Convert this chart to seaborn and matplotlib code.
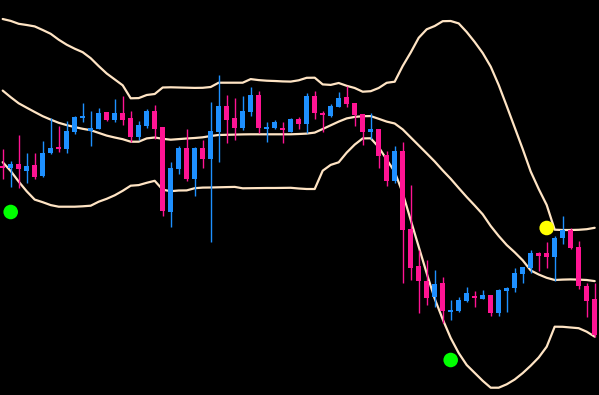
import numpy as np
import pandas as pd
import matplotlib
matplotlib.use("Agg")
import matplotlib.pyplot as plt
import seaborn as sns

# ---- data (price levels) ----
opens = [234, 232, 236, 229.3, 234.7, 224, 247.3, 252.7, 251, 268.3,
         282, 269.3, 271.3, 288, 280, 287.3, 282, 263.3, 274.3, 289,
         273.3, 188, 231, 252.3, 221, 252.3, 241, 268.3, 294, 281.7,
         272.3, 288.3, 305, 271.3, 272.3, 272, 268.3, 281, 276, 304.3,
         287.3, 284, 293.3, 303.3, 297.3, 286, 268.3, 271, 245, 219,
         249.3, 171, 134, 119, 103.3, 116.7, 88.3, 89.3, 99, 104,
         101, 105, 87.3, 109.3, 112.3, 126, 132.3, 147.3, 146.7, 143.3,
         161.7, 170, 153.3, 114, 101]
highs = [251, 239, 265, 247, 246.7, 259, 281.7, 274, 279, 284,
         297.3, 289, 292.3, 288, 301, 304, 289, 279, 290.7, 295,
         273.3, 238.3, 254, 271, 253.3, 260, 298.3, 325, 305, 302.3,
         304, 313.3, 309, 278, 280, 278, 282, 283.3, 306.7, 309,
         289, 296, 308.3, 314, 297.3, 286, 286.7, 271, 249, 254.3,
         258.3, 215, 150, 140, 130, 122.7, 100, 102.7, 112.7, 109,
         110, 105, 110.7, 113.3, 131.7, 133.3, 150, 148.3, 158.3, 164,
         184, 171.7, 159, 116.7, 116.7]
lows = [221, 213, 212.3, 217, 221.3, 223.3, 246, 248.3, 247.3, 266,
        278.3, 254.3, 270.7, 279, 278.3, 275, 258.3, 260, 271.7, 261,
        184.3, 173.3, 226, 219.3, 204.3, 232.3, 158.3, 238.3, 256.7, 260,
        270, 284.3, 267.3, 258.3, 271, 256.7, 267.7, 271, 266.7, 281,
        268.3, 282.7, 292.7, 293.3, 274.3, 255, 260.7, 232.3, 214, 217.3,
        117.3, 120, 87.3, 95, 93.3, 76.7, 80, 88.3, 98.3, 92.7,
        100.7, 84.3, 84.3, 88.3, 108.3, 117.3, 126.7, 129.3, 132.3, 119.3,
        155.7, 150.7, 110.7, 82.7, 63.3]
closes = [232.5, 236, 231.3, 234, 223.3, 246.7, 251.7, 250.7, 269, 283.3,
          284, 272, 287.3, 280, 287.3, 280, 263.3, 275, 289, 271,
          189.3, 232.3, 252.3, 221, 252.3, 241, 269, 294, 280, 272.3,
          289, 305, 272.3, 272.7, 278, 270.3, 281, 276, 304.3, 287.3,
          284.7, 294.3, 302.3, 296, 285, 268.3, 271, 244.3, 219, 249.3,
          170, 132.3, 119, 102.3, 116, 89.3, 90.3, 100, 106.7, 102.3,
          105, 87.3, 110, 112.3, 127.3, 133.3, 147.3, 144.3, 143.3, 162.3,
          170, 152.3, 114, 99.3, 65]

upper_band = [381.0, 379.1, 376.2, 375.0, 373.6, 370.0, 366.2, 360.3, 355.3, 351.3,
              347.8, 341.8, 333.9, 326.5, 320.6, 314.7, 301.7, 301.9, 305.0, 306.0,
              312.5, 312.7, 312.5, 312.3, 312.1, 312.2, 313.0, 317.3, 317.3, 317.3,
              317.3, 320.9, 319.9, 319.3, 319.0, 318.6, 318.4, 319.7, 322.2, 322.3,
              315.6, 315.1, 317.0, 314.2, 312.0, 308.3, 308.8, 312.0, 317.2, 318.3,
              334.0, 347.5, 362.2, 370.7, 374.0, 378.8, 379.0, 376.6, 368.0, 358.0,
              347.0, 333.4, 315.0, 294.0, 272.5, 251.0, 228.5, 211.0, 195.0, 170.3,
              170.0, 170.0, 170.2, 170.8, 172.2]
middle_band = [309.4, 302.8, 296.7, 292.3, 288.0, 283.8, 280.4, 277.2, 274.9, 272.9,
               271.2, 269.8, 267.1, 264.4, 262.5, 260.8, 258.3, 258.3, 261.6, 262.5,
               261.2, 260.3, 260.9, 261.5, 262.0, 262.7, 264.0, 265.0, 265.2, 265.4,
               265.6, 265.7, 265.7, 265.7, 265.7, 265.7, 265.7, 266.0, 266.4, 267.4,
               271.0, 274.7, 278.4, 281.6, 283.1, 283.8, 283.9, 281.2, 278.4, 276.5,
               270.6, 262.6, 254.6, 246.6, 238.5, 229.6, 221.2, 212.0, 203.0, 194.5,
               185.7, 174.0, 164.0, 155.0, 147.7, 139.7, 129.6, 125.5, 122.2, 120.0,
               120.4, 120.6, 120.4, 120.0, 118.9]
lower_band = [237.8, 229.0, 218.4, 208.7, 200.4, 197.8, 194.9, 193.3, 193.3, 193.3,
              193.7, 194.3, 198.3, 201.2, 204.7, 209.2, 214.3, 214.9, 217.2, 219.2,
              210.3, 208.8, 209.5, 209.6, 211.8, 212.4, 212.5, 212.7, 212.9, 213.1,
              211.7, 211.8, 211.9, 212.0, 212.0, 212.1, 212.2, 211.5, 211.0, 211.0,
              229.3, 235.1, 237.7, 247.4, 255.4, 261.6, 261.7, 252.9, 240.4, 228.2,
              207.0, 180.0, 153.3, 126.7, 101.3, 80.7, 62.0, 47.0, 35.0, 27.1,
              19.2, 12.3, 12.3, 15.7, 20.5, 26.9, 34.3, 42.5, 53.3, 73.3,
              73.2, 72.5, 71.8, 68.3, 63.3]

signal_bar = [1, 56, 68]
signal_price = [188, 40, 172]
signal_kind = ["buy", "buy", "exit"]

# ---- styling ----
BULL = "#1E90FF"
BEAR = "#FF1493"
BAND = "#FFE4C4"

sns.set_style("dark", {"axes.facecolor": "black", "figure.facecolor": "black"})

n = len(opens)
idx = np.arange(n)
df = pd.DataFrame({"bar": idx, "open": opens, "high": highs, "low": lows, "close": closes,
                   "upper": upper_band, "middle": middle_band, "lower": lower_band})

fig = plt.figure(figsize=(5.99, 3.95), dpi=100, facecolor="black")
ax = fig.add_axes([0, 0, 1, 1])
ax.set_facecolor("black")

for col in ["upper", "middle", "lower"]:
    sns.lineplot(data=df, x="bar", y=col, ax=ax, color=BAND, linewidth=1.6, zorder=1)

bull = df["close"] >= df["open"]
colors = np.where(bull, BULL, BEAR)
ax.vlines(df["bar"], df["low"], df["high"], colors=colors, linewidth=1.0, zorder=2)
bottoms = np.minimum(df["open"], df["close"])
heights = np.maximum(np.abs(df["close"] - df["open"]), 1.6)
ax.bar(df["bar"], heights, bottom=bottoms, width=0.62, color=colors, linewidth=0, zorder=3)

sig = pd.DataFrame({"bar": signal_bar, "price": signal_price, "kind": signal_kind})
sns.scatterplot(data=sig, x="bar", y="price", hue="kind",
                palette={"buy": "#00FF00", "exit": "#FFFF00"},
                s=110, edgecolor="none", ax=ax, zorder=4, legend=False)

ax.set_xlim(-0.3375, 74.5375)
ax.set_ylim(5, 400)
ax.set_axis_off()

fig.savefig("out.png", dpi=100, facecolor="black")
